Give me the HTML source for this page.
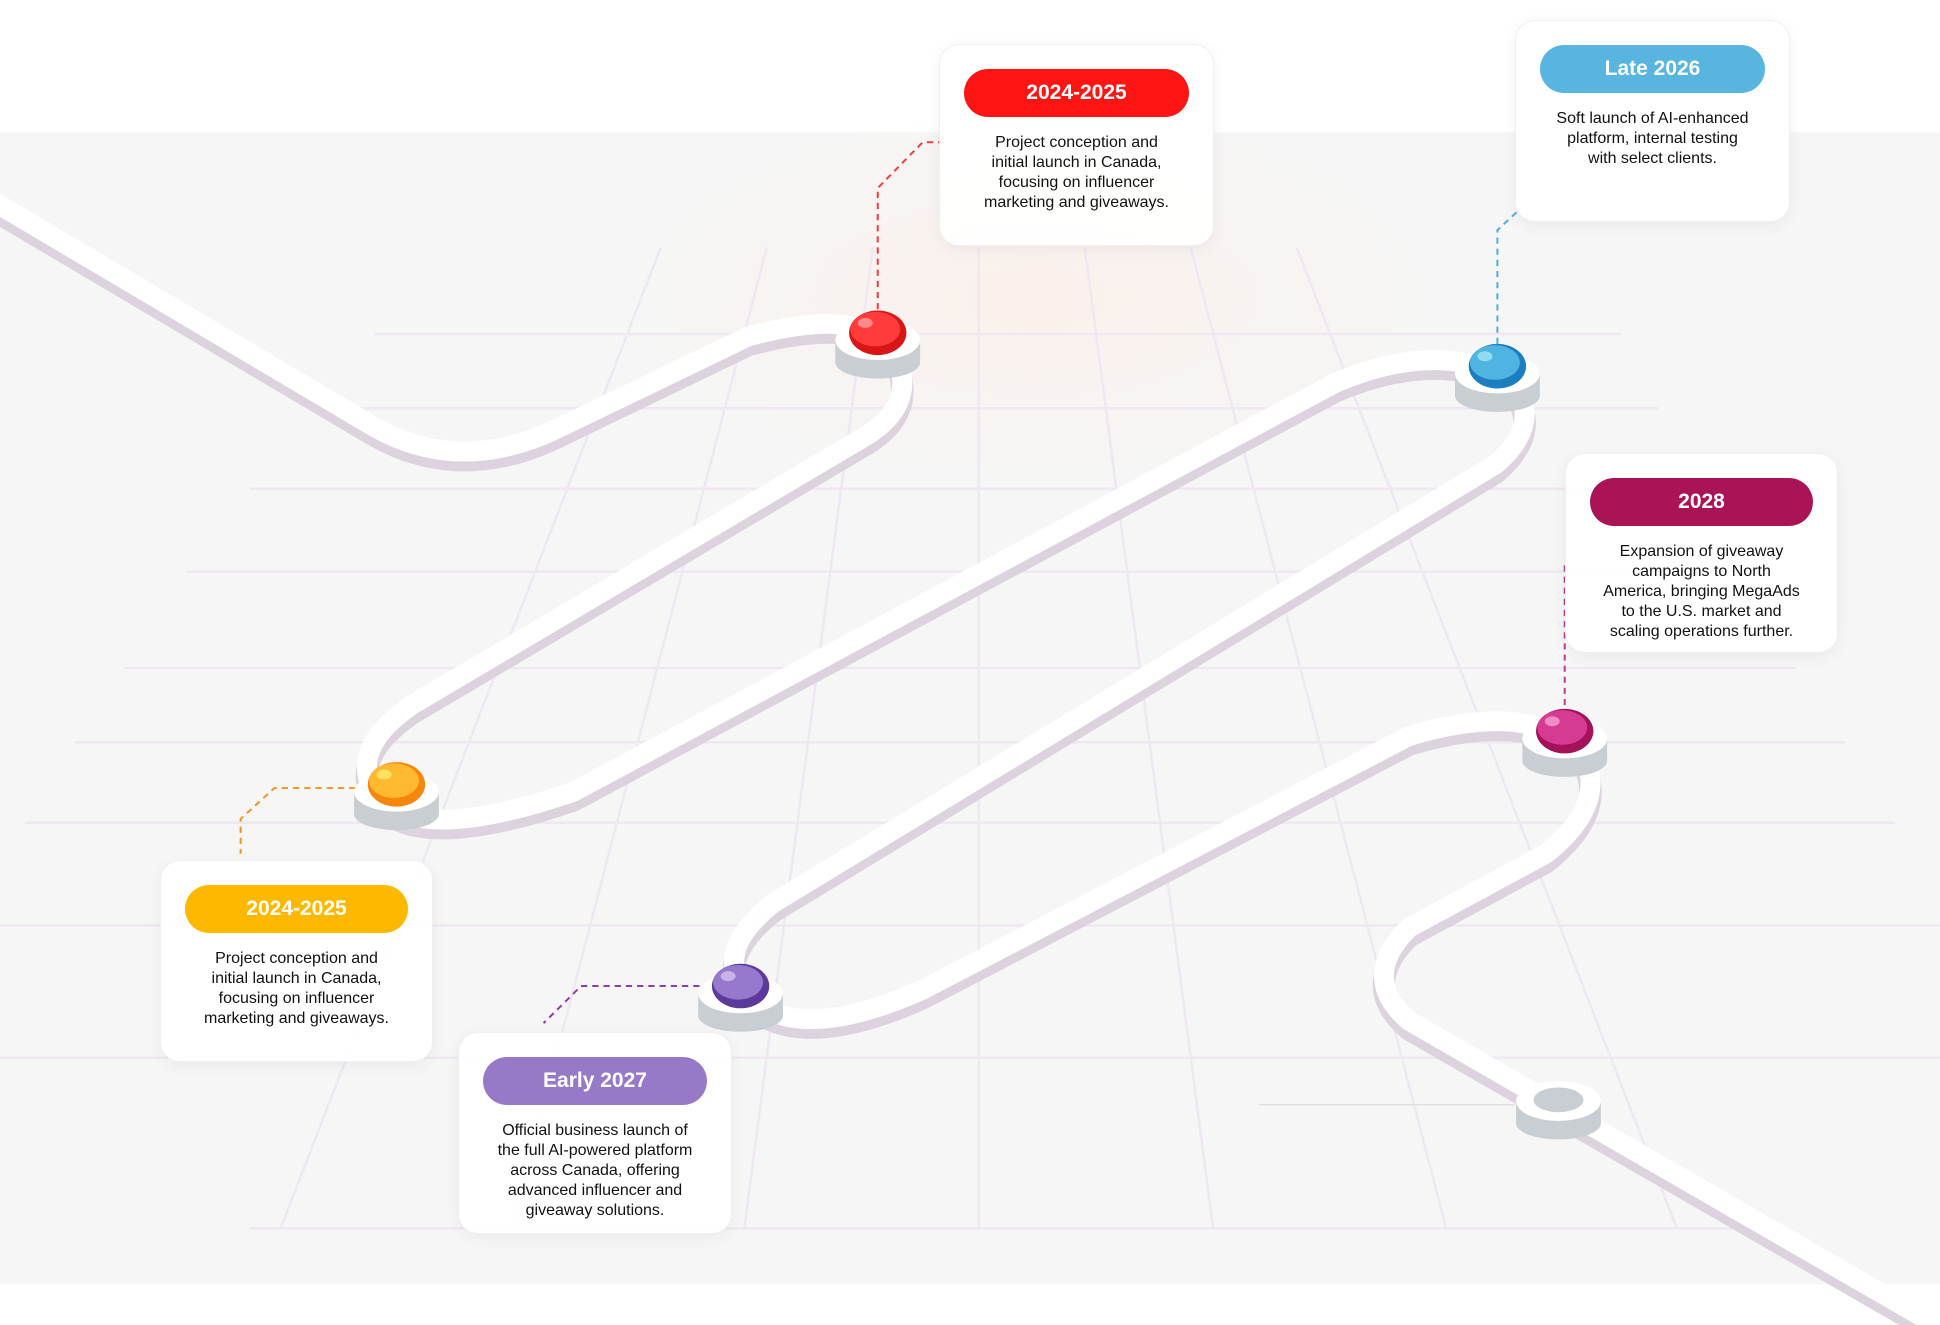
<!DOCTYPE html>
<html><head><meta charset="utf-8"><style>
html,body{margin:0;padding:0;}
body{width:1940px;height:1325px;position:relative;overflow:hidden;background:#fff;font-family:"Liberation Sans",sans-serif;}
svg{position:absolute;left:0;top:0;}
.card{position:absolute;background:rgba(255,255,255,0.93);border-radius:20px;box-shadow:0 4px 16px rgba(0,0,0,0.05);border:1px solid rgba(238,238,238,0.9);box-sizing:border-box;text-align:center;}
.pill{position:absolute;left:24px;right:24px;top:24px;height:48px;border-radius:24px;color:#fff;font-size:21px;line-height:48px;font-weight:bold;}
.txt{position:absolute;left:8px;right:8px;font-size:16px;line-height:20px;color:#111;}
</style></head><body>
<svg width="1940" height="1325" viewBox="0 0 1556 1071" preserveAspectRatio="none">
<defs>
<radialGradient id="glow" cx="0.5" cy="0.5" r="0.5"><stop offset="0" stop-color="#fdeee6" stop-opacity="0.7"/><stop offset="1" stop-color="#fdeee6" stop-opacity="0"/></radialGradient>
</defs>
<rect x="0" y="107" width="1556" height="931" fill="#f6f6f6"/>
<ellipse cx="830" cy="240" rx="330" ry="150" fill="url(#glow)"/>
<g stroke="#efe7f2" stroke-width="2" fill="none">
<line x1="300" y1="270" x2="1300" y2="270"/><line x1="250" y1="330" x2="1330" y2="330"/>
<line x1="200" y1="395" x2="1360" y2="395"/><line x1="150" y1="462" x2="1400" y2="462"/>
<line x1="100" y1="540" x2="1440" y2="540"/><line x1="60" y1="600" x2="1480" y2="600"/>
<line x1="20" y1="665" x2="1520" y2="665"/><line x1="0" y1="748" x2="1556" y2="748"/>
<line x1="0" y1="855" x2="1556" y2="855"/><line x1="200" y1="993" x2="1420" y2="993"/>
<line x1="785" y1="200" x2="785" y2="993"/>
<line x1="700" y1="200" x2="597" y2="993"/><line x1="615" y1="200" x2="410" y2="993"/>
<line x1="530" y1="200" x2="225" y2="993"/><line x1="870" y1="200" x2="973" y2="993"/>
<line x1="955" y1="200" x2="1160" y2="993"/><line x1="1040" y1="200" x2="1345" y2="993"/>
</g>
<g fill="none" stroke-linecap="round" stroke-linejoin="round">
<path transform="translate(0,7)" stroke="#ddd3df" stroke-width="18" d="M -10 160 L 300 345 Q 370 385 450 345 L 600 272 Q 700 245 720 290 Q 735 330 690 355 L 330 570 Q 280 605 300 640 Q 330 685 460 640 L 1070 310 Q 1150 275 1210 305 Q 1240 340 1200 375 L 620 730 Q 570 770 600 805 Q 640 845 740 800 L 1130 595 Q 1230 565 1270 610 Q 1290 650 1240 690 L 1130 750 Q 1090 790 1130 825 L 1560 1075"/>
<path stroke="#ffffff" stroke-width="16" d="M -10 160 L 300 345 Q 370 385 450 345 L 600 272 Q 700 245 720 290 Q 735 330 690 355 L 330 570 Q 280 605 300 640 Q 330 685 460 640 L 1070 310 Q 1150 275 1210 305 Q 1240 340 1200 375 L 620 730 Q 570 770 600 805 Q 640 845 740 800 L 1130 595 Q 1230 565 1270 610 Q 1290 650 1240 690 L 1130 750 Q 1090 790 1130 825 L 1560 1075"/>
</g>
<g fill="none" stroke-width="1.6" stroke-dasharray="5,4">
<path stroke="#f03c3c" d="M704 250 V152 L740 115 H757"/>
<path stroke="#4aaee0" d="M1201 278 V186 L1218 170"/>
<path stroke="#c33a8a" d="M1255 570 V455"/>
<path stroke="#f7921e" d="M285 637 H220 L193 662 V690"/>
<path stroke="#8e3bb0" d="M570 797 H466 L436 827"/>
</g>
<line x1="1010" y1="893" x2="1215" y2="893" stroke="#ddd" stroke-width="1"/>
<g>
<g transform="translate(704,275)"><rect x="-34" y="0" width="68" height="18" fill="#c8ced1"/><ellipse cx="0" cy="18" rx="34" ry="13" fill="#c8ced1"/><ellipse cx="0" cy="0" rx="34" ry="16" fill="#fff"/><ellipse cx="0" cy="-6" rx="23" ry="18" fill="#d91616"/><ellipse cx="-2" cy="-9" rx="20" ry="14" fill="#ff3b3b"/><ellipse cx="-10" cy="-14" rx="6" ry="4" fill="#ff8a8a"/></g>
<g transform="translate(1201,302)"><rect x="-34" y="0" width="68" height="18" fill="#c8ced1"/><ellipse cx="0" cy="18" rx="34" ry="13" fill="#c8ced1"/><ellipse cx="0" cy="0" rx="34" ry="16" fill="#fff"/><ellipse cx="0" cy="-6" rx="23" ry="18" fill="#1c7ec0"/><ellipse cx="-2" cy="-9" rx="20" ry="14" fill="#4fb4e2"/><ellipse cx="-10" cy="-14" rx="6" ry="4" fill="#8fdcf2"/></g>
<g transform="translate(1255,597)"><rect x="-34" y="0" width="68" height="18" fill="#c8ced1"/><ellipse cx="0" cy="18" rx="34" ry="13" fill="#c8ced1"/><ellipse cx="0" cy="0" rx="34" ry="16" fill="#fff"/><ellipse cx="0" cy="-6" rx="23" ry="18" fill="#a4125a"/><ellipse cx="-2" cy="-9" rx="20" ry="14" fill="#d63b93"/><ellipse cx="-10" cy="-14" rx="6" ry="4" fill="#f08cc4"/></g>
<g transform="translate(318,640)"><rect x="-34" y="0" width="68" height="18" fill="#c8ced1"/><ellipse cx="0" cy="18" rx="34" ry="13" fill="#c8ced1"/><ellipse cx="0" cy="0" rx="34" ry="16" fill="#fff"/><ellipse cx="0" cy="-6" rx="23" ry="18" fill="#f7860f"/><ellipse cx="-2" cy="-9" rx="20" ry="14" fill="#ffb92e"/><ellipse cx="-10" cy="-14" rx="6" ry="4" fill="#ffe060"/></g>
<g transform="translate(594,803)"><rect x="-34" y="0" width="68" height="18" fill="#c8ced1"/><ellipse cx="0" cy="18" rx="34" ry="13" fill="#c8ced1"/><ellipse cx="0" cy="0" rx="34" ry="16" fill="#fff"/><ellipse cx="0" cy="-6" rx="23" ry="18" fill="#5b3a9c"/><ellipse cx="-2" cy="-9" rx="20" ry="14" fill="#9678cc"/><ellipse cx="-10" cy="-14" rx="6" ry="4" fill="#c8b4e6"/></g>
<g transform="translate(1250,890)"><rect x="-34" y="0" width="68" height="18" fill="#c8ced1"/><ellipse cx="0" cy="18" rx="34" ry="13" fill="#c8ced1"/><ellipse cx="0" cy="0" rx="34" ry="16" fill="#fff"/><ellipse cx="0" cy="-1" rx="20" ry="10" fill="#c8ced1"/></g>
</g>
</svg>

<div class="card" style="left:939px;top:44px;width:275px;height:202px;">
<div class="pill" style="background:#ff1414;">2024-2025</div>
<div class="txt" style="top:88px;">Project conception and<br>initial launch in Canada,<br>focusing on influencer<br>marketing and giveaways.</div></div>

<div class="card" style="left:1515px;top:20px;width:275px;height:202px;">
<div class="pill" style="background:#57b5df;">Late 2026</div>
<div class="txt" style="top:88px;">Soft launch of AI-enhanced<br>platform, internal testing<br>with select clients.</div></div>

<div class="card" style="left:1565px;top:453px;width:273px;height:200px;">
<div class="pill" style="background:#aa1457;">2028</div>
<div class="txt" style="top:88px;">Expansion of giveaway<br>campaigns to North<br>America, bringing MegaAds<br>to the U.S. market and<br>scaling operations further.</div></div>

<div class="card" style="left:160px;top:860px;width:273px;height:202px;">
<div class="pill" style="background:#ffb800;">2024-2025</div>
<div class="txt" style="top:88px;">Project conception and<br>initial launch in Canada,<br>focusing on influencer<br>marketing and giveaways.</div></div>

<div class="card" style="left:458px;top:1032px;width:274px;height:202px;">
<div class="pill" style="background:#977ac7;">Early 2027</div>
<div class="txt" style="top:88px;">Official business launch of<br>the full AI-powered platform<br>across Canada, offering<br>advanced influencer and<br>giveaway solutions.</div></div>
</body></html>
